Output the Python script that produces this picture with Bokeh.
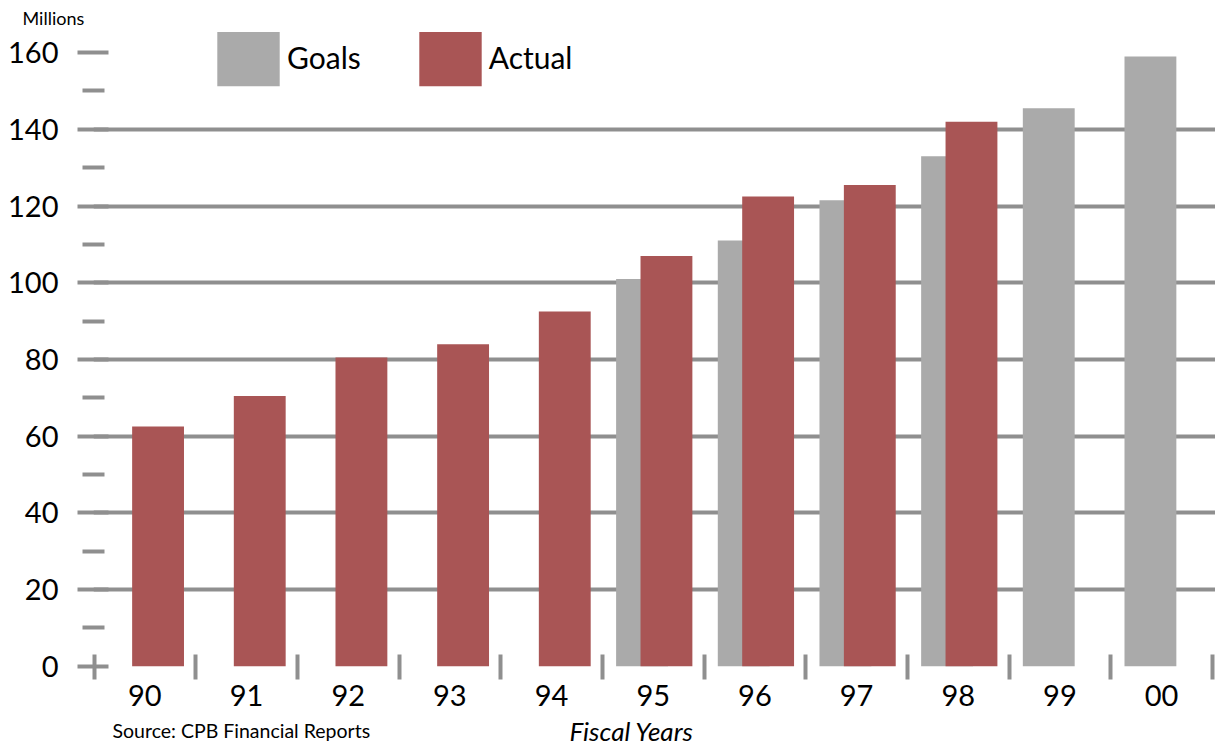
from bokeh.plotting import figure
from bokeh.models import (ColumnDataSource, FixedTicker, Range1d, Legend, LegendItem, Title)
from bokeh.transform import dodge
from bokeh.embed import file_html
from bokeh.resources import INLINE

# ---- data ----
years = ["90", "91", "92", "93", "94", "95", "96", "97", "98", "99", "00"]
goals = [None, None, None, None, None, 101, 111, 121.5, 133, 145.5, 159]
actual = [62.5, 70.5, 80.5, 84, 92.5, 107, 122.5, 125.5, 142, None, None]
y_ticks = [0, 20, 40, 60, 80, 100, 120, 140, 160]
y_minor = [10, 30, 50, 70, 90, 110, 130, 150]
grid_vals = [20, 40, 60, 80, 100, 120, 140]

GREY = "#aaaaaa"
RED = "#a95555"
LINE = "#8f8f8f"
FONT = "Lato"

centers = [i + 0.5 for i in range(len(years))]
g_src = ColumnDataSource(dict(x=[c for c, v in zip(centers, goals) if v is not None],
                              top=[v for v in goals if v is not None]))
a_src = ColumnDataSource(dict(x=[c for c, v in zip(centers, actual) if v is not None],
                              top=[v for v in actual if v is not None]))

p = figure(width=1215, height=746, output_backend="svg", toolbar_location=None,
           x_range=Range1d(-0.005, 11.03), y_range=Range1d(-0.3, 165.25),
           min_border_left=93, min_border_right=0, min_border_top=0, min_border_bottom=79)
p.outline_line_color = None
p.background_fill_color = "white"
p.border_fill_color = "white"

p.add_layout(Title(text="Millions", align="left", offset=-71, standoff=8,
                   text_font=FONT, text_font_size="18px", text_font_style="normal",
                   text_color="black"), "above")

rg = p.vbar(x=dodge("x", -0.11, range=p.x_range), top="top", bottom=0, width=0.51,
            source=g_src, fill_color=GREY, line_color=None)
ra = p.vbar(x=dodge("x", 0.13, range=p.x_range), top="top", bottom=0, width=0.51,
            source=a_src, fill_color=RED, line_color=None)

# grids
p.xgrid.visible = False
p.ygrid.ticker = FixedTicker(ticks=grid_vals)
p.ygrid.grid_line_color = LINE
p.ygrid.grid_line_width = 4

# y axis
ya = p.yaxis[0]
ya.ticker = FixedTicker(ticks=y_ticks, minor_ticks=y_minor)
ya.axis_line_color = None
ya.major_tick_line_color = LINE
ya.major_tick_line_width = 4
ya.major_tick_in = 15
ya.major_tick_out = 16
ya.minor_tick_line_color = LINE
ya.minor_tick_line_width = 4
ya.minor_tick_in = 11
ya.minor_tick_out = 11
ya.major_label_text_font = FONT
ya.major_label_text_font_size = "29px"
ya.major_label_text_color = "black"
ya.major_label_standoff = 19

# x axis
xa = p.xaxis[0]
xa.ticker = FixedTicker(ticks=centers, minor_ticks=list(range(len(years) + 1)))
xa.major_label_overrides = {c: y for c, y in zip(centers, years)}
xa.axis_line_color = None
xa.major_tick_in = 0
xa.major_tick_out = 0
xa.minor_tick_line_color = LINE
xa.minor_tick_line_width = 4
xa.minor_tick_in = 13
xa.minor_tick_out = 12
xa.major_label_text_font = FONT
xa.major_label_text_font_size = "29px"
xa.major_label_text_color = "black"
xa.major_label_standoff = 5

legend = Legend(items=[LegendItem(label="Goals", renderers=[rg]),
                       LegendItem(label="Actual", renderers=[ra])],
                location=(116, 574), orientation="horizontal",
                glyph_width=78, glyph_height=73, label_standoff=0, spacing=50,
                padding=0, margin=0, border_line_color=None, background_fill_alpha=0,
                label_text_font=FONT, label_text_font_size="30px", label_text_color="black")
p.add_layout(legend, "center")

# footer texts (zero-height titles below the x axis, sharing one line)
p.add_layout(Title(text="Source: CPB Financial Reports", align="left", offset=19,
                   vertical_align="bottom", standoff=-66,
                   text_font=FONT, text_font_size="19.5px", text_font_style="normal",
                   text_color="black"), "below")
p.add_layout(Title(text="Fiscal Years", align="left", offset=476,
                   vertical_align="bottom", standoff=-76,
                   text_font=FONT, text_font_size="26px", text_font_style="italic",
                   text_color="black"), "below")

open("out.html", "w").write(file_html(p, INLINE))
